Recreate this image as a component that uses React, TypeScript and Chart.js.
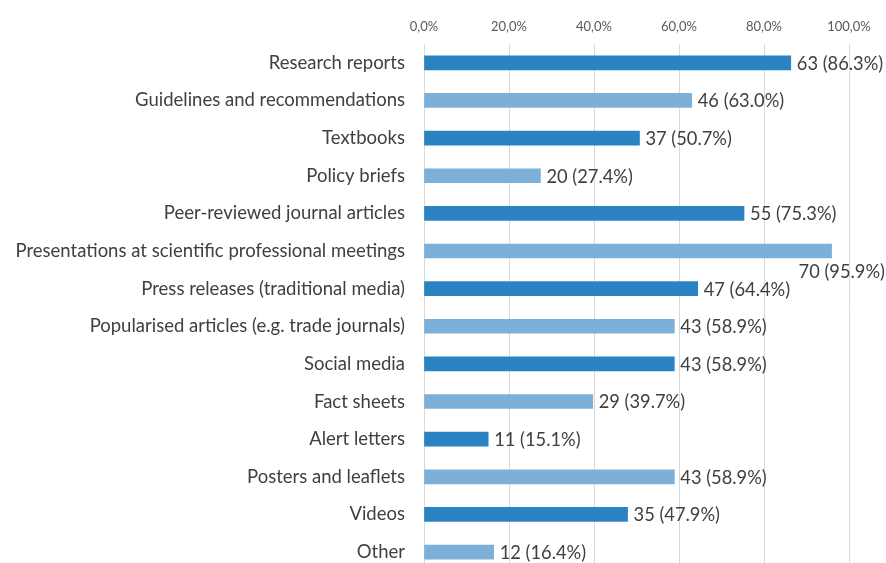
import React, { useEffect, useRef } from "react";
import { Chart, registerables } from "chart.js";

Chart.register(...registerables);

const categories = [
  "Research reports",
  "Guidelines and recommendations",
  "Textbooks",
  "Policy briefs",
  "Peer-reviewed journal articles",
  "Presentations at scientific professional meetings",
  "Press releases (traditional media)",
  "Popularised articles (e.g. trade journals)",
  "Social media",
  "Fact sheets",
  "Alert letters",
  "Posters and leaflets",
  "Videos",
  "Other",
];
const counts = [63, 46, 37, 20, 55, 70, 47, 43, 43, 29, 11, 43, 35, 12];
const percents = [86.3, 63.0, 50.7, 27.4, 75.3, 95.9, 64.4, 58.9, 58.9, 39.7, 15.1, 58.9, 47.9, 16.4];
const tickValues = [0, 20, 40, 60, 80, 100];

const DARK = "#2B83C3";
const LIGHT = "#7DB0D8";
const FONT = "Lato, 'Open Sans', sans-serif";

const labelPlugin = {
  id: "valueLabels",
  afterDatasetsDraw(chart: any) {
    const ctx = chart.ctx;
    const meta = chart.getDatasetMeta(0);
    ctx.save();
    ctx.font = `18.3px ${FONT}`;
    ctx.fillStyle = "#404040";
    ctx.textBaseline = "middle";
    meta.data.forEach((bar: any, i: number) => {
      const text = `${counts[i]} (${percents[i].toFixed(1)}%)`;
      let x = bar.x + 6;
      let y = bar.y + 1;
      if (i === 5) {
        x = bar.x - 33;
        y = bar.y + 21;
      }
      ctx.textAlign = "left";
      ctx.fillText(text, x, y);
    });
    ctx.restore();
  },
};

export default function App() {
  const ref = useRef<HTMLCanvasElement>(null);
  useEffect(() => {
    if (!ref.current) return;
    const chart = new Chart(ref.current, {
      type: "bar",
      data: {
        labels: categories,
        datasets: [
          {
            data: percents,
            backgroundColor: categories.map((_, i) => (i % 2 === 0 ? DARK : LIGHT)),
            barThickness: 14,
          },
        ],
      },
      options: {
        indexAxis: "y",
        animation: false,
        responsive: false,
        maintainAspectRatio: false,
        layout: { padding: { left: 0, right: 37, top: 0, bottom: 0 } },
        plugins: {
          legend: { display: false },
          tooltip: { enabled: false },
        },
        scales: {
          x: {
            position: "top",
            min: 0,
            max: 100,
            afterBuildTicks: (s: any) => {
              s.ticks = tickValues.map((v) => ({ value: v }));
            },
            afterFit: (s: any) => {
              s.height = 44;
            },
            ticks: {
              callback: (v: any) => Number(v).toFixed(1).replace(".", ",") + "%",
              color: "#595959",
              font: { family: FONT, size: 13 },
              padding: 9,
              maxRotation: 0,
            },
            grid: { color: "#D9D9D9", drawTicks: false, lineWidth: 1 },
            border: { display: false },
          },
          y: {
            afterFit: (s: any) => {
              s.width = 424;
            },
            ticks: {
              color: "#404040",
              font: { family: FONT, size: 18.5 },
              padding: 19,
              autoSkip: false,
            },
            grid: { display: false, drawTicks: false },
            border: { display: false },
          },
        },
      },
      plugins: [labelPlugin],
    });
    return () => chart.destroy();
  }, []);
  return (
    <div style={{ position: "fixed", left: 0, top: 0, width: 886, height: 601, background: "#fff" }}>
      <canvas ref={ref} width={886} height={601} style={{ width: 886, height: 601 }} />
    </div>
  );
}
